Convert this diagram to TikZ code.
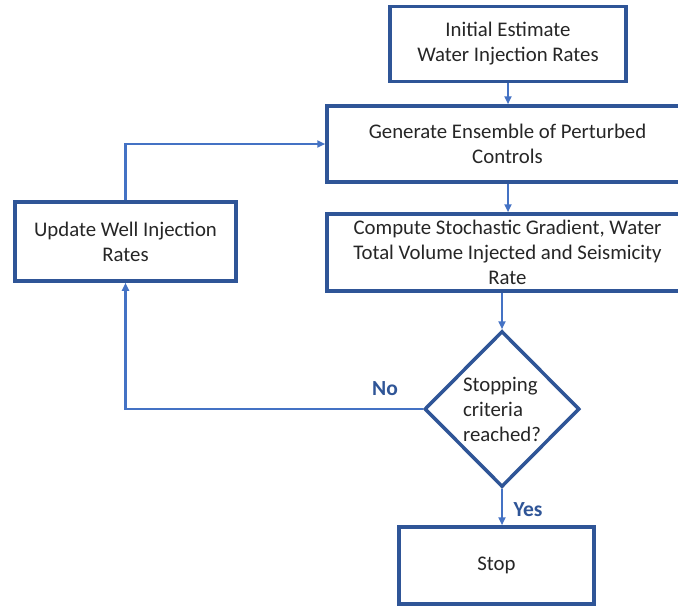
\documentclass[tikz,border=0pt]{standalone}
\usepackage{fontspec}
\setmainfont{Carlito}
\usetikzlibrary{shapes.geometric,arrows.meta}
\definecolor{boxblue}{HTML}{2F5597}
\definecolor{linkblue}{HTML}{4472C4}
\definecolor{txt}{HTML}{262626}
\tikzset{
  stepbox/.style={draw=boxblue, line width=3.5pt, fill=white, align=center, text=txt, inner sep=2pt,
    font=\fontsize{20.8}{25}\selectfont},
  link/.style={draw=linkblue, line width=2.2pt, -{Triangle[length=8pt,width=7pt]}},
  lbl/.style={text=boxblue, font=\fontsize{21.5}{24}\selectfont\bfseries}
}
\begin{document}
\begin{tikzpicture}[x=1pt,y=-1pt]
\useasboundingbox (0,0) rectangle (678,608);
\clip (0,0) rectangle (678,608);
\node[stepbox, minimum width=236pt, minimum height=75pt] (init) at (508,44) {Initial Estimate\\Water Injection Rates};
\node[stepbox, minimum width=361pt, minimum height=76pt] (gen) at (507.5,144) {Generate Ensemble of Perturbed\\Controls};
\node[stepbox, minimum width=361pt, minimum height=77pt] (comp) at (507.5,252.5) {Compute Stochastic Gradient, Water\\Total Volume Injected and Seismicity\\Rate};
\node[stepbox, minimum width=221pt, minimum height=79pt] (upd) at (125.5,241.5) {Update Well Injection\\Rates};
\node[stepbox, shape=diamond, minimum width=155pt, minimum height=156pt, inner sep=0pt, align=left] (dia) at (502,409) {Stopping\\criteria\\reached?};
\node[stepbox, minimum width=195pt, minimum height=77pt] (stop) at (496.5,565.5) {Stop};
\draw[link] (init.south) -- (init.south |- gen.north);
\draw[link] (gen.south -| init.south) -- (init.south |- comp.north);
\draw[link] (comp.south -| dia.north) -- (dia.north);
\draw[link] (dia.south) -- (dia.south |- stop.north);
\draw[link] (dia.west) -| (upd.south);
\draw[link] (upd.north) |- (gen.west);
\node[lbl] (no) at (385,389) {No};
\node[lbl] (yes) at (528,510) {Yes};
\end{tikzpicture}
\end{document}
